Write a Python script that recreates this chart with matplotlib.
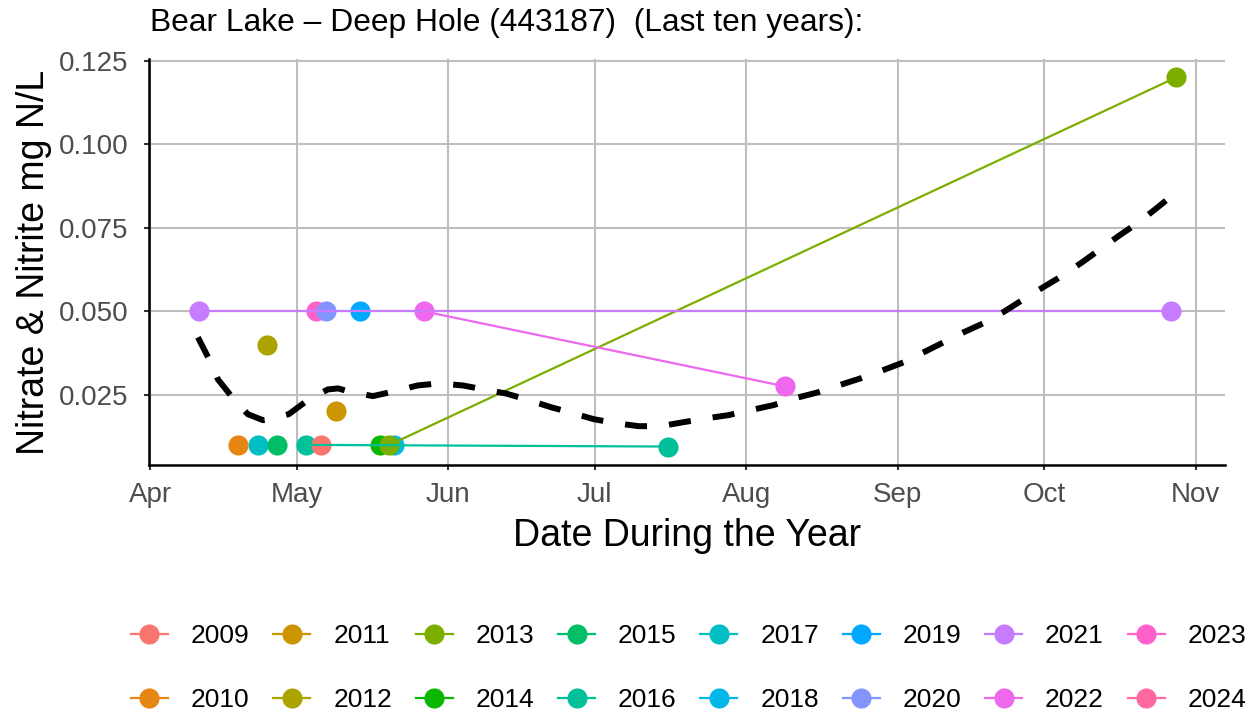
import matplotlib
matplotlib.use('Agg')
import matplotlib.pyplot as plt
import matplotlib.dates as mdates
from matplotlib.lines import Line2D
import datetime as dt

plt.rcParams['font.family'] = ['Liberation Sans', 'DejaVu Sans']

# ---------------- data ----------------
years = [2009, 2010, 2011, 2012, 2013, 2014, 2015, 2016,
         2017, 2018, 2019, 2020, 2021, 2022, 2023, 2024]
year_colors = ['#F8766D', '#E68613', '#CD9600', '#ABA300', '#7CAE00', '#0CB702',
               '#00BE67', '#00C19A', '#00BFC4', '#00B8E7', '#00A9FF', '#8494FF',
               '#C77CFF', '#ED68ED', '#FF61CC', '#FF68A1']

point_years = [2009, 2010, 2011, 2012, 2013, 2013, 2014, 2015, 2016, 2016,
               2017, 2018, 2019, 2020, 2021, 2021, 2022, 2022, 2023]
point_dates = ['05-06', '04-19', '05-09', '04-25', '05-20', '10-28', '05-18', '04-27',
               '05-03', '07-16', '04-23', '05-21', '05-14', '05-07', '04-11', '10-27',
               '05-27', '08-09', '05-05']
point_values = [0.010, 0.010, 0.020, 0.040, 0.010, 0.120, 0.010, 0.010, 0.010, 0.0095,
                0.010, 0.010, 0.050, 0.050, 0.050, 0.050, 0.050, 0.0275, 0.050]

# smoothed trend: days after April 1, value
smooth_days = [9.8, 11.9, 13.9, 16.8, 20.0, 23.1, 24.7, 28.4, 32.3, 36.4, 38.5, 40.7,
               45.6, 49.9, 54.8, 59.1, 64.0, 68.3, 72.8, 77.5, 82.0, 86.5, 90.8, 95.3,
               100.0, 104.5, 109.2, 114.1, 118.4, 122.9, 127.6, 132.1, 136.6, 140.9,
               145.4, 149.9, 154.2, 158.3, 162.4, 166.5, 171.0, 174.6, 179.1, 182.8,
               186.9, 190.8, 194.5, 198.2, 202.0, 205.7, 210.0]
smooth_values = [0.0422, 0.0362, 0.0296, 0.0243, 0.0192, 0.0174, 0.0177, 0.0192, 0.0234,
                 0.0266, 0.0269, 0.0260, 0.0246, 0.0260, 0.0278, 0.0284, 0.0278, 0.0266,
                 0.0254, 0.0234, 0.0213, 0.0195, 0.0177, 0.0165, 0.0156, 0.0156, 0.0168,
                 0.0180, 0.0189, 0.0204, 0.0219, 0.0240, 0.0257, 0.0278, 0.0299, 0.0323,
                 0.0347, 0.0377, 0.0407, 0.0437, 0.0467, 0.0497, 0.0539, 0.0572, 0.0608,
                 0.0647, 0.0686, 0.0725, 0.0763, 0.0805, 0.0856]

month_ticks = ['04-01', '05-01', '06-01', '07-01', '08-01', '09-01', '10-01', '11-01']
y_ticks = [0.025, 0.050, 0.075, 0.100, 0.125]

title = 'Bear Lake \u2013 Deep Hole (443187)  (Last ten years):'
xlabel = 'Date During the Year'
ylabel = 'Nitrate & Nitrite mg N/L'

# ---------------- helpers ----------------
BASE = 2001
def to_date(md):
    m, d = md.split('-')
    return dt.datetime(BASE, int(m), int(d))

apr1 = dt.datetime(BASE, 4, 1)
color_of = dict(zip(years, year_colors))

W, H = 1255, 715
fig = plt.figure(figsize=(W / 100, H / 100), dpi=100)
ax = fig.add_axes([149 / W, 1 - 465 / H, (1225 - 149) / W, (465 - 59) / H])

grid_c = '#BEBEBE'
ax.grid(True, color=grid_c, linewidth=1.5, zorder=0)
ax.set_axisbelow(True)

# points (drawn in reverse year order)
for yr in reversed(years):
    xs = [to_date(d) for y, d in zip(point_years, point_dates) if y == yr]
    vs = [v for y, v in zip(point_years, point_values) if y == yr]
    if xs:
        ax.plot(xs, vs, linestyle='none', marker='o', markersize=14.5,
                markeredgewidth=0, color=color_of[yr], zorder=3)

# lines per year
for yr in years:
    pts = sorted([(to_date(d), v) for y, d, v in zip(point_years, point_dates, point_values) if y == yr])
    if len(pts) > 1:
        ax.plot([p[0] for p in pts], [p[1] for p in pts], color=color_of[yr],
                linewidth=1.6, zorder=4, solid_capstyle='butt')

# smooth trend
sx = [apr1 + dt.timedelta(days=d) for d in smooth_days]
ln, = ax.plot(sx, smooth_values, color='black', linewidth=4.3, zorder=5)
ln.set_dashes([3.7, 3.7])

# limits (5% expansion)
all_x = [to_date(d) for d in point_dates] + sx
xmin, xmax = min(all_x), max(all_x)
xr = xmax - xmin
ax.set_xlim(xmin - xr * 0.05, xmax + xr * 0.05)
ymin, ymax = min(point_values + smooth_values), max(point_values + smooth_values)
yr_ = ymax - ymin
ax.set_ylim(ymin - yr_ * 0.05, ymax + yr_ * 0.05)

ax.set_xticks([to_date(m) for m in month_ticks])
ax.xaxis.set_major_formatter(mdates.DateFormatter('%b'))
ax.set_yticks(y_ticks)
ax.set_yticklabels(['%.3f' % v for v in y_ticks])

for s in ['top', 'right']:
    ax.spines[s].set_visible(False)
for s in ['left', 'bottom']:
    ax.spines[s].set_linewidth(1.8)
    ax.spines[s].set_color('black')

ax.tick_params(axis='both', length=3.6, width=1.5, color='#333333',
               labelsize=20, labelcolor='#4D4D4D')
ax.tick_params(axis='x', pad=8.5)
ax.tick_params(axis='y', pad=11)

ax.set_xlabel(xlabel, fontsize=27, labelpad=7)
ax.set_ylabel(ylabel, fontsize=27, labelpad=5)
fig.text(150 / W, 1 - 23 / H, title, fontsize=22.9, ha='left', va='center')

# legend
handles = [Line2D([0], [0], color=c, marker='o', markersize=14.5, markeredgewidth=0,
                  linewidth=1.6) for c in year_colors]
labels = [str(y) for y in years]
fig.legend(handles, labels, ncol=8, loc='center left',
           bbox_to_anchor=(131 / W, 1 - 668 / H), frameon=False, fontsize=19,
           handlelength=1.4, handletextpad=0.87, columnspacing=0.9,
           labelspacing=1.5, borderpad=0, borderaxespad=0)

fig.savefig('out.png', dpi=100)
